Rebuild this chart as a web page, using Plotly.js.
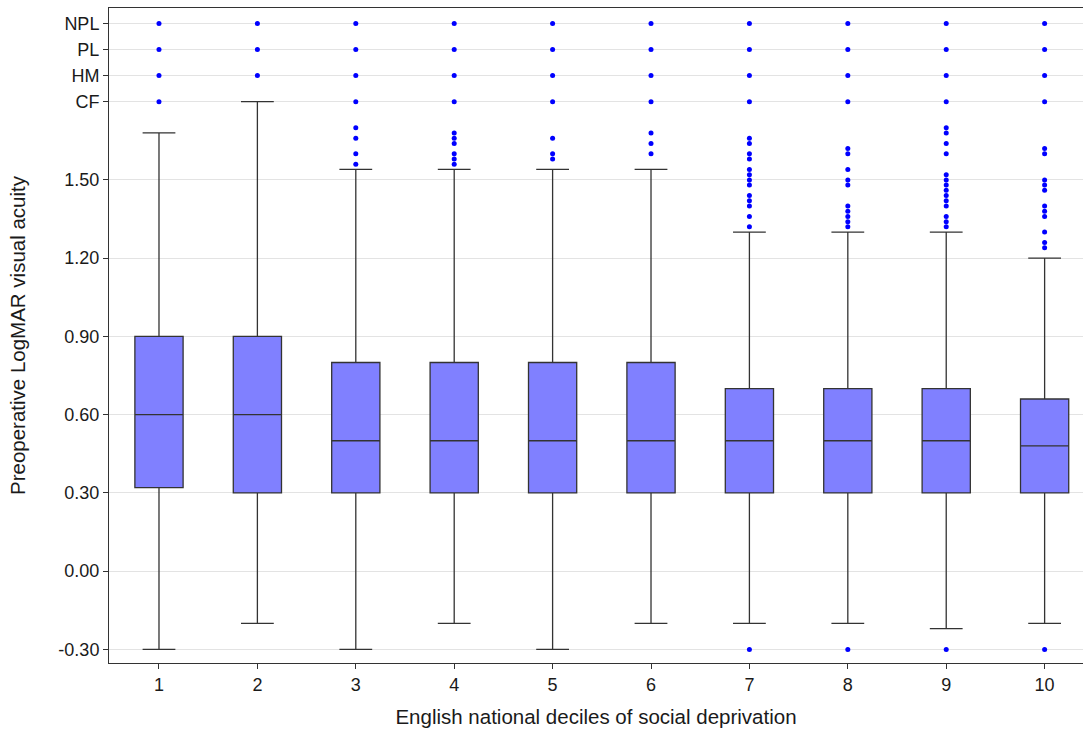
<!DOCTYPE html>
<html>
<head>
<meta charset="utf-8">
<script src="https://cdn.plot.ly/plotly-3.0.1.min.js"></script>
<style>html,body{margin:0;padding:0;background:#fff;}#chart{width:1083px;height:731px;}</style>
</head>
<body>
<div id="chart"></div>
<script>
// Deciles of social deprivation
const deciles = [1, 2, 3, 4, 5, 6, 7, 8, 9, 10];
// Box statistics (LogMAR)
const q1Values = [0.32, 0.30, 0.30, 0.30, 0.30, 0.30, 0.30, 0.30, 0.30, 0.30];
const medianValues = [0.60, 0.60, 0.50, 0.50, 0.50, 0.50, 0.50, 0.50, 0.50, 0.48];
const q3Values = [0.90, 0.90, 0.80, 0.80, 0.80, 0.80, 0.70, 0.70, 0.70, 0.66];
const lowerWhisker = [-0.30, -0.20, -0.30, -0.20, -0.30, -0.20, -0.20, -0.20, -0.22, -0.20];
const upperWhisker = [1.68, 1.80, 1.54, 1.54, 1.54, 1.54, 1.30, 1.30, 1.30, 1.20];
// Outliers per decile (CF = 1.8, HM = 1.9, PL = 2.0, NPL = 2.1)
const outliers1 = [1.8, 1.9, 2.0, 2.1];
const outliers2 = [1.9, 2.0, 2.1];
const outliers3 = [1.56, 1.60, 1.66, 1.70, 1.8, 1.9, 2.0, 2.1];
const outliers4 = [1.56, 1.58, 1.60, 1.64, 1.66, 1.68, 1.8, 1.9, 2.0, 2.1];
const outliers5 = [1.58, 1.60, 1.66, 1.8, 1.9, 2.0, 2.1];
const outliers6 = [1.60, 1.64, 1.68, 1.8, 1.9, 2.0, 2.1];
const outliers7 = [-0.30, 1.32, 1.36, 1.40, 1.42, 1.44, 1.48, 1.50, 1.52, 1.54, 1.58, 1.60, 1.64, 1.66, 1.8, 1.9, 2.0, 2.1];
const outliers8 = [-0.30, 1.32, 1.34, 1.36, 1.38, 1.40, 1.48, 1.50, 1.54, 1.60, 1.62, 1.8, 1.9, 2.0, 2.1];
const outliers9 = [-0.30, 1.32, 1.34, 1.36, 1.40, 1.42, 1.44, 1.46, 1.48, 1.50, 1.52, 1.60, 1.64, 1.68, 1.70, 1.8, 1.9, 2.0, 2.1];
const outliers10 = [-0.30, 1.24, 1.26, 1.30, 1.36, 1.38, 1.40, 1.46, 1.48, 1.50, 1.60, 1.62, 1.8, 1.9, 2.0, 2.1];
const outlierLists = [outliers1, outliers2, outliers3, outliers4, outliers5, outliers6, outliers7, outliers8, outliers9, outliers10];
// Y tick labels
const yTickVals = [-0.30, 0.00, 0.30, 0.60, 0.90, 1.20, 1.50, 1.80, 1.90, 2.00, 2.10];
const yTickText = ["-0.30", "0.00", "0.30", "0.60", "0.90", "1.20", "1.50", "CF", "HM", "PL", "NPL"];

const outX = [], outY = [];
outlierLists.forEach((list, i) => list.forEach(v => { outX.push(deciles[i]); outY.push(v); }));

const boxTrace = {
  type: 'box',
  x: deciles,
  q1: q1Values,
  median: medianValues,
  q3: q3Values,
  lowerfence: lowerWhisker,
  upperfence: upperWhisker,
  boxpoints: false,
  width: 0.49,
  whiskerwidth: 0.68,
  fillcolor: '#8080FF',
  line: {color: '#333333', width: 1.3},
  hoverinfo: 'skip',
  showlegend: false
};

const outlierTrace = {
  type: 'scatter',
  mode: 'markers',
  x: outX,
  y: outY,
  marker: {color: '#0000FF', size: 5},
  hoverinfo: 'skip',
  showlegend: false
};

const font = 'Liberation Sans, Arial, sans-serif';
const layout = {
  width: 1083,
  height: 731,
  margin: {l: 109, r: 0, t: 8, b: 68},
  paper_bgcolor: '#ffffff',
  plot_bgcolor: '#ffffff',
  font: {family: font, color: '#1a1a1a'},
  xaxis: {
    range: [0.492, 10.39],
    tickvals: deciles,
    ticktext: deciles.map(String),
    showgrid: false,
    zeroline: false,
    showline: true,
    mirror: true,
    linecolor: '#333333',
    linewidth: 1,
    ticks: 'outside',
    ticklen: 5,
    tickcolor: '#333333',
    tickfont: {size: 18, color: '#1a1a1a', family: font},
    title: {text: 'English national deciles of social deprivation', font: {size: 20.5, color: '#1a1a1a', family: font}, standoff: 16}
  },
  yaxis: {
    range: [-0.352, 2.159],
    tickvals: yTickVals,
    ticktext: yTickText,
    showgrid: true,
    gridcolor: '#e3e3e3',
    gridwidth: 1,
    zeroline: false,
    showline: true,
    linecolor: '#333333',
    linewidth: 1,
    ticks: 'outside',
    ticklen: 5,
    tickcolor: '#333333',
    tickfont: {size: 18, color: '#1a1a1a', family: font},
    title: {text: 'Preoperative LogMAR visual acuity', font: {size: 20.5, color: '#1a1a1a', family: font}, standoff: 27}
  }
};

Plotly.newPlot('chart', [boxTrace, outlierTrace], layout, {displayModeBar: false, staticPlot: true});
</script>
</body>
</html>
